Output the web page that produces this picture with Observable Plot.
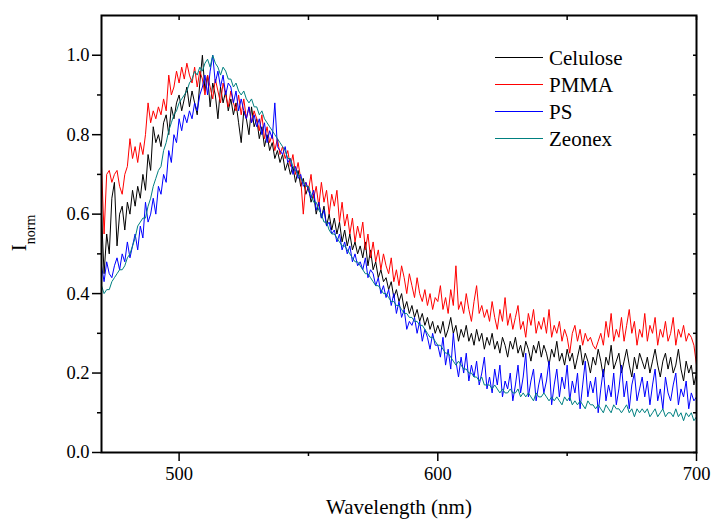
<!DOCTYPE html>
<html>
<head>
<meta charset="utf-8">
<script src="https://cdn.jsdelivr.net/npm/d3@7"></script>
<script src="https://cdn.jsdelivr.net/npm/@observablehq/plot@0.6"></script>
<style>
  html, body { margin: 0; padding: 0; background: #fff; }
  #chart { position: relative; width: 711px; height: 522px; }
  #chart svg, #chart svg text, #chart svg tspan { font-family: "Liberation Serif", "DejaVu Serif", serif !important; }
</style>
</head>
<body>
<div id="chart"></div>
<script>
// Wavelength grid (nm), 1 nm steps from 470 to 700
const wavelengths = d3.range(470, 701, 1);

const seriesNames = ["Celulose", "PMMA", "PS", "Zeonex"];
const seriesColors = ["#000000", "#ff0000", "#0000ff", "#008080"];

const celulose = [
  0.60,0.45,0.55,0.50,0.64,0.68,0.52,0.60,0.62,0.56,
  0.63,0.60,0.66,0.62,0.67,0.64,0.70,0.66,0.75,0.71,
  0.82,0.78,0.80,0.77,0.83,0.85,0.80,0.87,0.84,0.88,
  0.90,0.86,0.89,0.92,0.87,0.91,0.88,0.85,0.93,1.00,
  0.91,0.95,0.87,0.93,0.90,0.84,0.92,0.88,0.91,0.86,
  0.89,0.85,0.88,0.83,0.78,0.86,0.84,0.80,0.87,0.82,
  0.84,0.79,0.82,0.77,0.80,0.76,0.78,0.74,0.76,0.73,
  0.75,0.71,0.73,0.70,0.72,0.68,0.71,0.67,0.69,0.65,
  0.67,0.63,0.65,0.60,0.63,0.59,0.62,0.57,0.60,0.56,
  0.59,0.55,0.58,0.53,0.56,0.52,0.55,0.51,0.53,0.50,
  0.52,0.49,0.53,0.47,0.51,0.46,0.48,0.44,0.46,0.43,
  0.44,0.41,0.43,0.39,0.41,0.38,0.40,0.36,0.38,0.35,
  0.37,0.34,0.36,0.33,0.35,0.32,0.34,0.31,0.33,0.30,
  0.32,0.30,0.33,0.29,0.31,0.34,0.30,0.32,0.28,0.31,
  0.29,0.32,0.28,0.30,0.27,0.31,0.28,0.30,0.26,0.29,
  0.27,0.30,0.26,0.28,0.25,0.29,0.27,0.24,0.28,0.26,
  0.29,0.25,0.27,0.24,0.28,0.26,0.23,0.27,0.25,0.28,
  0.24,0.27,0.25,0.22,0.26,0.24,0.28,0.23,0.25,0.22,
  0.26,0.23,0.25,0.21,0.24,0.27,0.22,0.25,0.23,0.20,
  0.24,0.22,0.26,0.23,0.19,0.24,0.22,0.27,0.21,0.23,
  0.25,0.20,0.23,0.26,0.22,0.19,0.24,0.21,0.25,0.23,
  0.21,0.24,0.20,0.23,0.26,0.22,0.19,0.23,0.25,0.21,
  0.24,0.20,0.22,0.26,0.21,0.18,0.23,0.20,0.22,0.17,
  0.20
];

const pmma = [
  0.72,0.55,0.70,0.71,0.68,0.70,0.71,0.67,0.65,0.70,
  0.72,0.79,0.74,0.77,0.73,0.78,0.75,0.80,0.88,0.83,
  0.86,0.84,0.87,0.85,0.89,0.86,0.95,0.90,0.92,0.96,
  0.93,0.97,0.94,0.98,0.95,0.93,0.97,0.92,0.96,0.94,
  0.90,0.95,0.92,0.89,0.94,0.91,0.88,0.93,0.90,0.87,
  0.91,0.88,0.86,0.90,0.85,0.89,0.84,0.87,0.83,0.86,
  0.84,0.81,0.85,0.79,0.82,0.78,0.80,0.76,0.79,0.75,
  0.77,0.74,0.76,0.72,0.75,0.70,0.73,0.69,0.60,0.68,
  0.66,0.70,0.64,0.67,0.62,0.68,0.63,0.66,0.60,0.65,
  0.62,0.66,0.58,0.63,0.57,0.60,0.55,0.59,0.53,0.57,
  0.54,0.58,0.51,0.55,0.49,0.53,0.48,0.51,0.46,0.50,
  0.47,0.45,0.49,0.43,0.46,0.42,0.47,0.44,0.40,0.45,
  0.42,0.39,0.44,0.40,0.38,0.41,0.37,0.40,0.36,0.39,
  0.38,0.42,0.36,0.39,0.35,0.41,0.37,0.47,0.36,0.38,
  0.35,0.40,0.36,0.33,0.38,0.42,0.35,0.37,0.34,0.36,
  0.33,0.38,0.34,0.31,0.36,0.33,0.39,0.32,0.35,0.31,
  0.34,0.37,0.31,0.33,0.29,0.35,0.32,0.36,0.30,0.33,
  0.31,0.34,0.30,0.36,0.29,0.32,0.30,0.33,0.28,0.31,
  0.29,0.25,0.30,0.32,0.28,0.31,0.27,0.30,0.28,0.29,
  0.27,0.26,0.28,0.30,0.27,0.33,0.29,0.35,0.28,0.31,
  0.29,0.34,0.28,0.32,0.36,0.30,0.33,0.27,0.31,0.29,
  0.35,0.28,0.32,0.30,0.34,0.27,0.31,0.29,0.33,0.28,
  0.30,0.34,0.27,0.31,0.29,0.32,0.28,0.30,0.29,0.27,
  0.22
];

const ps = [
  0.47,0.43,0.48,0.45,0.44,0.47,0.49,0.46,0.50,0.48,
  0.53,0.49,0.52,0.55,0.51,0.57,0.54,0.63,0.58,0.60,
  0.64,0.60,0.67,0.65,0.70,0.68,0.76,0.73,0.80,0.78,
  0.84,0.81,0.85,0.83,0.86,0.84,0.88,0.86,0.90,0.92,
  0.95,0.90,0.96,1.00,0.93,0.96,0.92,0.95,0.90,0.93,
  0.92,0.88,0.91,0.86,0.89,0.86,0.84,0.87,0.83,0.85,
  0.82,0.84,0.80,0.83,0.78,0.81,0.79,0.88,0.77,0.76,
  0.75,0.77,0.73,0.74,0.70,0.72,0.69,0.70,0.67,0.68,
  0.66,0.64,0.66,0.61,0.63,0.59,0.61,0.57,0.58,0.55,
  0.56,0.53,0.55,0.51,0.53,0.50,0.52,0.48,0.50,0.47,
  0.48,0.46,0.49,0.44,0.46,0.45,0.42,0.44,0.40,0.42,
  0.39,0.41,0.37,0.40,0.35,0.38,0.34,0.36,0.31,0.33,
  0.32,0.34,0.30,0.33,0.28,0.31,0.29,0.26,0.30,0.27,
  0.27,0.24,0.29,0.22,0.26,0.21,0.30,0.23,0.19,0.24,
  0.20,0.25,0.18,0.22,0.19,0.23,0.17,0.20,0.24,0.16,
  0.19,0.15,0.21,0.17,0.22,0.14,0.18,0.16,0.20,0.13,
  0.17,0.22,0.15,0.19,0.25,0.14,0.18,0.21,0.13,0.17,
  0.20,0.15,0.18,0.23,0.12,0.17,0.21,0.14,0.19,0.16,
  0.22,0.13,0.18,0.15,0.20,0.11,0.17,0.23,0.14,0.18,
  0.15,0.19,0.10,0.16,0.21,0.13,0.17,0.14,0.20,0.12,
  0.16,0.22,0.14,0.18,0.11,0.17,0.20,0.13,0.16,0.19,
  0.14,0.18,0.12,0.17,0.21,0.13,0.16,0.11,0.19,0.15,
  0.13,0.17,0.20,0.12,0.16,0.14,0.18,0.11,0.15,0.13,
  0.14
];

const zeonex = [
  0.42,0.40,0.41,0.41,0.43,0.44,0.45,0.46,0.46,0.47,
  0.49,0.50,0.52,0.54,0.57,0.58,0.59,0.59,0.62,0.64,
  0.67,0.69,0.71,0.72,0.76,0.78,0.81,0.83,0.85,0.86,
  0.88,0.89,0.90,0.91,0.93,0.94,0.96,0.95,0.97,0.96,
  0.98,0.99,0.97,1.00,0.98,0.97,0.95,0.97,0.96,0.94,
  0.94,0.92,0.93,0.91,0.90,0.91,0.89,0.88,0.89,0.87,
  0.87,0.85,0.86,0.84,0.83,0.82,0.81,0.80,0.79,0.78,
  0.77,0.76,0.74,0.74,0.72,0.71,0.70,0.69,0.68,0.67,
  0.67,0.65,0.63,0.63,0.61,0.60,0.58,0.58,0.56,0.55,
  0.55,0.54,0.53,0.52,0.52,0.51,0.50,0.49,0.48,0.48,
  0.47,0.46,0.45,0.45,0.44,0.43,0.42,0.42,0.41,0.40,
  0.40,0.39,0.38,0.38,0.37,0.37,0.36,0.35,0.35,0.34,
  0.34,0.33,0.33,0.32,0.32,0.31,0.30,0.29,0.29,0.28,
  0.27,0.27,0.26,0.25,0.25,0.24,0.23,0.22,0.23,0.22,
  0.21,0.21,0.20,0.20,0.19,0.19,0.18,0.19,0.17,0.17,
  0.17,0.16,0.17,0.16,0.15,0.16,0.15,0.15,0.16,0.15,
  0.15,0.16,0.14,0.15,0.14,0.15,0.14,0.13,0.15,0.14,
  0.14,0.15,0.14,0.13,0.14,0.13,0.14,0.13,0.12,0.14,
  0.13,0.14,0.12,0.13,0.12,0.13,0.12,0.11,0.13,0.12,
  0.12,0.11,0.12,0.11,0.10,0.12,0.11,0.10,0.12,0.11,
  0.11,0.10,0.11,0.12,0.10,0.11,0.09,0.11,0.10,0.11,
  0.10,0.11,0.09,0.10,0.11,0.09,0.10,0.11,0.09,0.10,
  0.10,0.09,0.11,0.09,0.10,0.08,0.10,0.09,0.10,0.08,
  0.09
];

const xMajorTicks = [500, 600, 700];
const xMinorTicks = [550, 650];
const yMajorTicks = [0, 0.2, 0.4, 0.6, 0.8, 1.0];
const yMinorTicks = [0.1, 0.3, 0.5, 0.7, 0.9];

const seriesValues = [celulose, pmma, ps, zeonex];
const rows = [];
seriesNames.forEach((name, i) => {
  seriesValues[i].forEach((v, j) => {
    rows.push({series: name, wl: wavelengths[j], v});
  });
});

const W = 711, H = 522;
const font = "Liberation Serif, DejaVu Serif, serif";

const plot = Plot.plot({
  width: W,
  height: H,
  marginLeft: 101,
  marginRight: 15,
  marginTop: 15,
  marginBottom: 70,
  style: {fontFamily: font, fontSize: "18.5px", background: "#fff", color: "#000"},
  x: {domain: [470, 700]},
  y: {domain: [0, 1.1]},
  color: {domain: seriesNames, range: seriesColors},
  marks: [
    Plot.line(rows, {x: "wl", y: "v", z: "series", stroke: "series", strokeWidth: 1, clip: true}),
    Plot.frame({stroke: "#000", strokeWidth: 2}),
    Plot.axisX({ticks: xMajorTicks, tickSize: 9, tickPadding: 5, tickFormat: d => String(d), label: null, strokeWidth: 1.5, fontSize: 18.5}),
    Plot.axisX({ticks: xMinorTicks, tickSize: 4, text: null, label: null, strokeWidth: 1.5}),
    Plot.axisX({ticks: xMajorTicks.concat(xMinorTicks), anchor: "top", tickSize: -4, text: null, label: null, strokeWidth: 1.5}),
    Plot.axisY({ticks: yMajorTicks, tickSize: 9, tickPadding: 3, tickFormat: d3.format(".1f"), label: null, strokeWidth: 1.5, fontSize: 18.5}),
    Plot.axisY({ticks: yMinorTicks, tickSize: 4, text: null, label: null, strokeWidth: 1.5}),
    Plot.axisY({ticks: yMajorTicks.concat(yMinorTicks), anchor: "right", tickSize: -4, text: null, label: null, strokeWidth: 1.5}),
    Plot.text(["Wavelength (nm)"], {frameAnchor: "bottom", dy: 61, fontSize: 21, fill: "#000"})
  ]
});

const svg = d3.select(plot);

// Y axis label: I with subscript "norm"
const yl = svg.append("text")
  .attr("transform", "translate(26,233) rotate(-90)")
  .attr("text-anchor", "middle")
  .attr("fill", "#000");
yl.append("tspan").attr("font-size", 21).text("I");
yl.append("tspan").attr("font-size", 14).attr("dy", 9).text("norm");

// Legend
const lg = svg.append("g").attr("font-size", 21).attr("text-anchor", "start");
seriesNames.forEach((name, i) => {
  const y = 57.5 + i * 27;
  lg.append("line").attr("x1", 495).attr("x2", 543).attr("y1", y).attr("y2", y)
    .attr("stroke", seriesColors[i]).attr("stroke-width", 1);
  lg.append("text").attr("x", 549).attr("y", y).attr("dy", "0.35em")
    .attr("text-anchor", "start").attr("fill", "#000").text(name);
});

document.getElementById("chart").appendChild(plot);
</script>
</body>
</html>
